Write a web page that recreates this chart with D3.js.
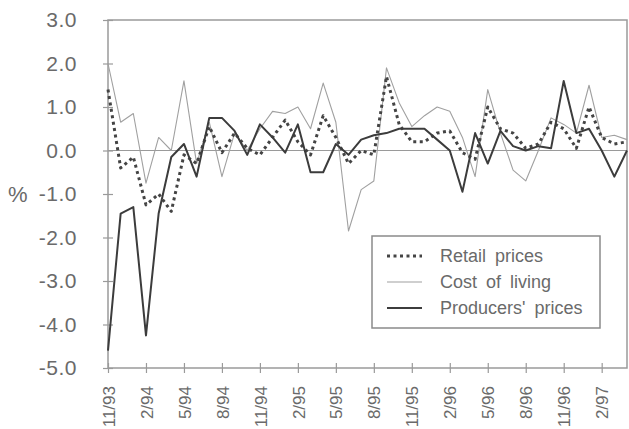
<!DOCTYPE html>
<html>
<head>
<meta charset="utf-8">
<script src="https://cdn.jsdelivr.net/npm/d3@7/dist/d3.min.js"></script>
<style>
  html, body { margin: 0; padding: 0; background: #fff; }
  svg { display: block; font-family: "Liberation Sans", Arial, sans-serif; }
</style>
</head>
<body>
<svg id="chart" width="629" height="429"></svg>
<script>
const months = ["11/93","12/93","1/94","2/94","3/94","4/94","5/94","6/94","7/94","8/94","9/94","10/94",
  "11/94","12/94","1/95","2/95","3/95","4/95","5/95","6/95","7/95","8/95","9/95","10/95",
  "11/95","12/95","1/96","2/96","3/96","4/96","5/96","6/96","7/96","8/96","9/96","10/96",
  "11/96","12/96","1/97","2/97","3/97","4/97"];
const xTickLabels = ["11/93","2/94","5/94","8/94","11/94","2/95","5/95","8/95","11/95","2/96","5/96","8/96","11/96","2/97"];
const yTicks = [3, 2, 1, 0, -1, -2, -3, -4, -5];

const retail = [1.4,-0.4,-0.15,-1.25,-1.0,-1.4,-0.1,-0.3,0.55,-0.05,0.4,0.05,
  -0.1,0.3,0.7,0.2,-0.1,0.8,0.3,-0.3,0.0,-0.1,1.7,0.6,
  0.2,0.2,0.4,0.45,-0.05,-0.2,1.0,0.5,0.4,0.05,0.15,0.65,
  0.5,0.05,1.0,0.3,0.15,0.2];
const costOfLiving = [2.0,0.65,0.85,-0.75,0.3,0.0,1.6,-0.3,0.65,-0.6,0.4,0.0,
  0.5,0.9,0.85,1.0,0.5,1.55,0.65,-1.85,-0.9,-0.7,1.9,1.1,
  0.55,0.8,1.0,0.9,0.3,-0.6,1.4,0.4,-0.45,-0.7,0.0,0.75,
  0.6,0.4,1.5,0.3,0.35,0.25];
const producers = [-4.6,-1.45,-1.3,-4.25,-1.45,-0.15,0.15,-0.6,0.75,0.75,0.45,-0.1,
  0.6,0.3,-0.05,0.6,-0.5,-0.5,0.15,-0.1,0.25,0.35,0.4,0.5,
  0.5,0.5,0.25,0.0,-0.95,0.4,-0.3,0.45,0.1,0.0,0.1,0.05,
  1.6,0.4,0.5,0.0,-0.6,0.0];
const seriesNames = ["Retail prices", "Cost of living", "Producers' prices"];

const svg = d3.select("#chart");
const L = 108, R = 627, T = 20, B = 368;

const x = d3.scaleLinear().domain([0, months.length - 1]).range([L, R]);
const y = d3.scaleLinear().domain([-5, 3]).range([B, T]);

const axisColor = "#9a9a9a";
const textColor = "#6a6a6a";

// frame
svg.append("rect").attr("x", L).attr("y", T).attr("width", R - L).attr("height", B - T)
  .attr("fill", "none").attr("stroke", axisColor).attr("stroke-width", 1.5);

// zero line
svg.append("line").attr("x1", L).attr("x2", R).attr("y1", y(0)).attr("y2", y(0))
  .attr("stroke", axisColor).attr("stroke-width", 1.2);

// y axis
const yAxis = d3.axisLeft(y).tickValues(yTicks).tickSize(5).tickSizeOuter(0)
  .tickPadding(26).tickFormat(d => d.toFixed(1));
const gy = svg.append("g").attr("transform", `translate(${L},0)`).call(yAxis);
gy.select(".domain").remove();
gy.selectAll(".tick line").attr("x1", 5).attr("stroke", axisColor).attr("stroke-width", 1.2);
gy.selectAll(".tick text").attr("fill", textColor).style("font-size", "21px")
  .style("letter-spacing", "0.5px");

// x axis
const tickIdx = xTickLabels.map(l => months.indexOf(l));
const xAxis = d3.axisBottom(x).tickValues(tickIdx).tickSize(5).tickSizeOuter(0)
  .tickFormat(i => months[i]);
const gx = svg.append("g").attr("transform", `translate(0,${B})`).call(xAxis);
gx.select(".domain").remove();
gx.selectAll(".tick line").attr("y1", -5).attr("stroke", axisColor).attr("stroke-width", 1.2);
gx.selectAll(".tick text")
  .attr("fill", textColor).style("font-size", "17px")
  .attr("transform", "rotate(-90)")
  .attr("text-anchor", "end")
  .attr("x", -18).attr("y", 0).attr("dy", "0.36em");

// % label
svg.append("text").attr("x", 8).attr("y", y(-1)).attr("dy", "0.36em")
  .attr("fill", textColor).style("font-size", "22px").text("%");

const line = d3.line().x((d, i) => x(i)).y(d => y(d));

const styles = [
  { data: costOfLiving, stroke: "#a0a0a0", width: 1.1, dash: null },
  { data: retail, stroke: "#444", width: 3, dash: "3,3.5" },
  { data: producers, stroke: "#3c3c3c", width: 2, dash: null }
];
styles.forEach(s => {
  svg.append("path").datum(s.data).attr("d", line)
    .attr("fill", "none").attr("stroke", s.stroke).attr("stroke-width", s.width)
    .attr("stroke-linejoin", "round")
    .attr("stroke-dasharray", s.dash);
});

// legend
const lg = svg.append("g");
lg.append("rect").attr("x", 372).attr("y", 236).attr("width", 228).attr("height", 92)
  .attr("fill", "#fff").attr("stroke", "#8a8a8a").attr("stroke-width", 1.5);
const legendStyles = [styles[1], styles[0], styles[2]];
seriesNames.forEach((name, k) => {
  const s = legendStyles[k];
  const cy = 256 + k * 26;
  lg.append("line").attr("x1", 387).attr("x2", 422).attr("y1", cy).attr("y2", cy)
    .attr("stroke", s.stroke).attr("stroke-width", s.width).attr("stroke-dasharray", s.dash);
  lg.append("text").attr("x", 440).attr("y", cy).attr("dy", "0.36em")
    .attr("fill", textColor).style("font-size", "18px").style("word-spacing", "4px")
    .text(name);
});
</script>
</body>
</html>
